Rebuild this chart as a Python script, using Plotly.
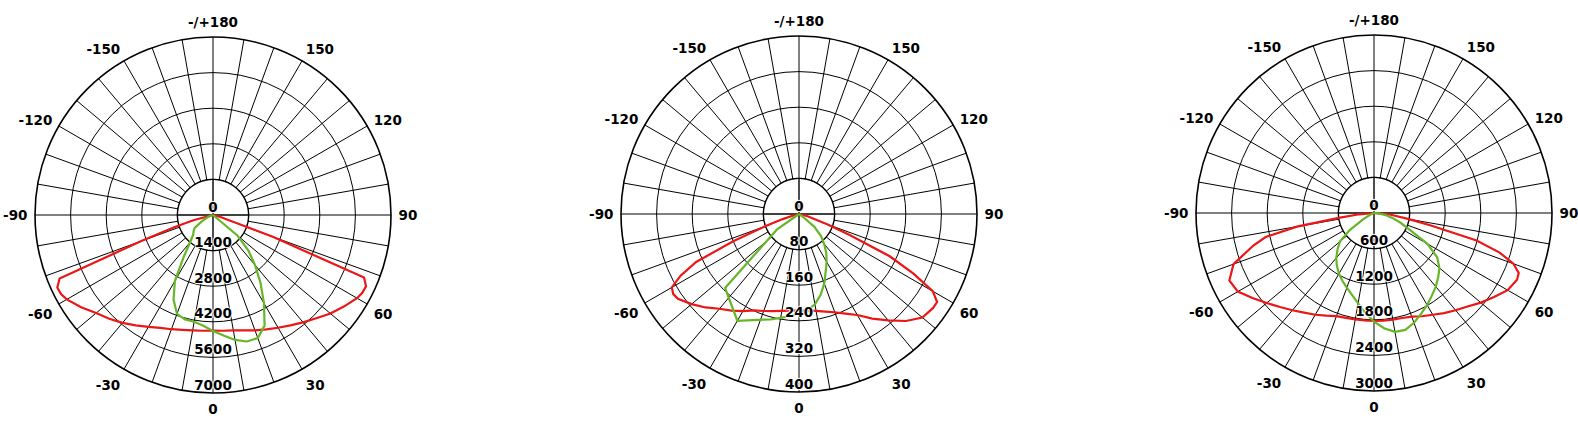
import plotly.graph_objects as go

# ---------------- data ----------------
# Chart 1 (scale 0..7000)
c1_rings = [1400, 2800, 4200, 5600, 7000]
c1_red_theta = [-90, -80, -75, -72.5, -70, -67.5, -65, -62.5, -60, -55, -50, -45, -40, -35, -30, -25, -20, -15, -10, -5,
                0, 5, 10, 15, 20, 25, 30, 35, 40, 45, 50, 55, 60, 62.5, 65, 67.5, 70, 75, 80, 90]
c1_red_r = [0, 0, 800, 1600, 3000, 6530, 6755, 6740, 6640, 6330, 6000, 5770, 5540, 5300, 5080, 4900, 4780, 4680, 4610, 4570,
            4550, 4570, 4610, 4700, 4830, 4960, 5120, 5300, 5510, 5740, 6030, 6280, 6540, 6620, 6640, 6430, 2500, 300, 0, 0]
c1_grn_theta = [-90, -75, -70, -65, -60, -55, -50, -45, -40, -35, -30, -25, -20, -15, -10, -5,
                0, 5, 10, 15, 20, 25, 30, 35, 40, 45, 50, 55, 90]
c1_grn_r = [0, 0, 150, 300, 520, 880, 1000, 1100, 1400, 2000, 3000, 3670, 4140, 4250, 4265, 4370,
            4560, 4760, 4990, 5150, 5150, 4800, 4010, 3260, 2570, 1960, 1250, 0, 0]

# Chart 2 (scale 0..400)
c2_rings = [80, 160, 240, 320, 400]
c2_red_theta = [-90, -80, -75, -72.5, -70, -67.5, -65, -62.5, -60, -57.5, -55, -50, -45, -40, -35, -30, -25, -20, -15, -10, -5,
                0, 5, 10, 15, 20, 25, 30, 35, 40, 45, 50, 55, 57.5, 60, 62.5, 65, 67.5, 70, 75, 80, 90]
c2_red_r = [0, 0, 15, 40, 81, 160, 255, 300, 330, 335, 332, 315, 297, 278, 265, 252, 239, 232, 226, 221, 218,
            217, 218, 221, 227, 235, 247, 262, 287, 312, 340, 362, 368, 368, 347, 290, 225, 122, 70, 20, 0, 0]
c2_grn_theta = [-90, -60, -55, -45, -30, -15, -10, -5, 0, 5, 10, 15, 20, 25, 30, 35, 40, 45, 50, 55, 60, 90]
c2_grn_r = [0, 0, 60, 235, 277, 245, 237, 230, 224, 217, 206, 188, 166, 142, 124, 107, 88, 70, 45, 10, 0, 0]

# Chart 3 (scale 0..3000)
c3_rings = [600, 1200, 1800, 2400, 3000]
c3_red_theta = [-90, -85, -82, -80, -77.5, -75, -70, -65, -60, -55, -50, -45, -40, -35, -30, -25, -20, -15, -10, -5,
                0, 5, 10, 15, 20, 25, 30, 35, 40, 45, 50, 55, 60, 65, 67.5, 70, 72.5, 75, 77.5, 80, 85, 90]
c3_red_r = [0, 250, 600, 1320, 1870, 2100, 2520, 2690, 2650, 2500, 2360, 2240, 2140, 2050, 1980, 1910, 1850, 1830, 1820, 1818,
            1817, 1820, 1825, 1832, 1860, 1920, 1980, 2060, 2140, 2230, 2350, 2470, 2600, 2660, 2640, 2500, 2220, 1790, 1010, 600, 250, 0]
c3_grn_theta = [-90, -70, -65, -60, -55, -50, -45, -40, -35, -30, -25, -20, -15, -10, -5,
                0, 5, 10, 15, 20, 25, 30, 35, 40, 45, 50, 55, 60, 65, 70, 75, 80, 85, 90]
c3_grn_r = [0, 0, 80, 200, 500, 750, 870, 990, 1090, 1180, 1260, 1340, 1430, 1545, 1690,
            1830, 1950, 2035, 2040, 1970, 1875, 1790, 1700, 1620, 1530, 1440, 1300, 1040, 660, 470, 320, 200, 80, 0]

# angular tick labels
ang_vals = list(range(0, 360, 10))
ang_named = {0: "0", 30: "30", 60: "60", 90: "90", 120: "120", 150: "150", 180: "-/+180",
             210: "-150", 240: "-120", 270: "-90", 300: "-60", 330: "-30"}
ang_text = [ang_named.get(v, "") for v in ang_vals]

# ---------------- styles ----------------
RED = "rgb(236,22,22)"
GREEN = "rgb(102,182,40)"
FONT = "DejaVu Sans"
W, H = 1578, 446
R_PX = 178
centers = [(213, 215), (799, 214), (1374, 213)]
GRID_W = 1.4

charts = [
    (c1_rings, c1_red_theta, c1_red_r, c1_grn_theta, c1_grn_r),
    (c2_rings, c2_red_theta, c2_red_r, c2_grn_theta, c2_grn_r),
    (c3_rings, c3_red_theta, c3_red_r, c3_grn_theta, c3_grn_r),
]

fig = go.Figure()
layout = {}
circ_theta = list(range(0, 361, 2))

for i, (rings, rt, rr, gt, gr) in enumerate(charts):
    pid = "polar" if i == 0 else f"polar{i+1}"
    cx, cy = centers[i]
    xd = [(cx - R_PX) / W, (cx + R_PX) / W]
    yb = H - cy
    yd = [(yb - R_PX) / H, (yb + R_PX) / H]
    step = rings[0]
    top = rings[-1]
    # white disk hiding spokes inside first ring
    fig.add_trace(go.Scatterpolar(theta=circ_theta, r=[step] * len(circ_theta), mode="lines",
                                  fill="toself", fillcolor="white", line=dict(color="white", width=0),
                                  subplot=pid, showlegend=False, hoverinfo="skip"))
    # first ring
    fig.add_trace(go.Scatterpolar(theta=circ_theta, r=[step] * len(circ_theta), mode="lines",
                                  line=dict(color="black", width=GRID_W),
                                  subplot=pid, showlegend=False, hoverinfo="skip"))
    # main axes through centre
    fig.add_trace(go.Scatterpolar(theta=[0, 0, 180], r=[step, 0, step], mode="lines",
                                  line=dict(color="black", width=GRID_W),
                                  subplot=pid, showlegend=False, hoverinfo="skip"))
    fig.add_trace(go.Scatterpolar(theta=[90, 90, 270], r=[step, 0, step], mode="lines",
                                  line=dict(color="black", width=GRID_W),
                                  subplot=pid, showlegend=False, hoverinfo="skip"))
    # curves
    fig.add_trace(go.Scatterpolar(theta=rt, r=rr, mode="lines", line=dict(color=RED, width=2.2),
                                  subplot=pid, showlegend=False))
    fig.add_trace(go.Scatterpolar(theta=gt, r=gr, mode="lines", line=dict(color=GREEN, width=2.2),
                                  subplot=pid, showlegend=False))
    # radial labels
    lab_r = [0] + rings
    fig.add_trace(go.Scatterpolar(theta=[0] * len(lab_r), r=lab_r, mode="text",
                                  text=[str(v) for v in lab_r], textposition="top center",
                                  textfont=dict(family=FONT, size=13.5, color="black", weight="bold",
                                                shadow="1px 0px 1px white, -1px 0px 1px white, 0px 1px 1px white, 0px -1px 1px white"),
                                  subplot=pid, showlegend=False, hoverinfo="skip"))
    layout[pid] = dict(
        domain=dict(x=xd, y=yd),
        bgcolor="white",
        angularaxis=dict(rotation=-90, direction="counterclockwise", tickmode="array",
                         tickvals=ang_vals, ticktext=ang_text, ticks="outside", ticklen=4,
                         tickcolor="rgba(255,255,255,0)",
                         showgrid=True, gridcolor="black", gridwidth=GRID_W,
                         showline=True, linecolor="black", linewidth=1.6,
                         tickfont=dict(family=FONT, size=13.5, color="black", weight="bold")),
        radialaxis=dict(range=[0, top], tickmode="array", tickvals=rings, showticklabels=False,
                        ticks="", showline=False, showgrid=True, gridcolor="black", gridwidth=GRID_W),
    )

fig.update_layout(width=W, height=H, margin=dict(l=0, r=0, t=0, b=0),
                  paper_bgcolor="white", plot_bgcolor="white", showlegend=False, **layout)
fig.write_html("out.html", config={"displayModeBar": False},
               post_script="document.body.style.margin='0px';document.body.style.overflow='hidden';")
